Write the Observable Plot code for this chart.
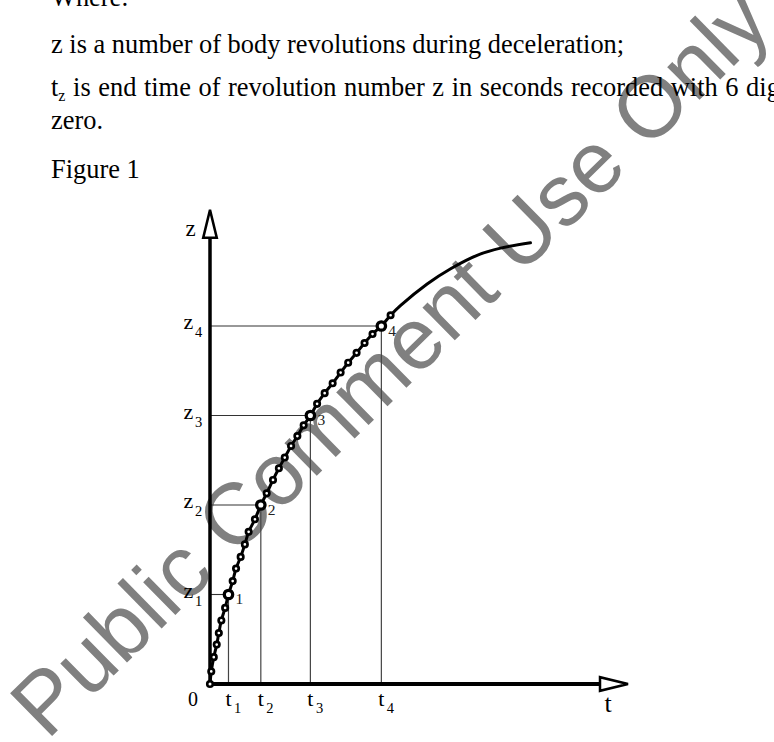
<!DOCTYPE html>
<html>
<head>
<meta charset="utf-8">
<script src="https://cdn.jsdelivr.net/npm/d3@7"></script>
<script src="https://cdn.jsdelivr.net/npm/@observablehq/plot@0.6"></script>
<style>
html, body { margin:0; padding:0; background:#fff; overflow:hidden; }
#page { position:relative; width:774px; height:742px; overflow:hidden; }
#wm { position:absolute; left:0; top:0; z-index:0; }
#content { position:relative; z-index:1; }
#text { position:relative; height:200px; font-family:"Liberation Serif","Times New Roman",serif; font-size:26.4px; color:#000; }
#text div { position:absolute; left:51px; line-height:30px; white-space:nowrap; }
#text sub { font-size:16px; vertical-align:-5px; line-height:0; }
#chart svg { display:block; }
</style>
</head>
<body>
<div id="page">
<svg id="wm" width="774" height="742"><text x="47" y="741" transform="rotate(-44.5 47 741)" font-family="'Liberation Sans', Arial, sans-serif" font-size="87" fill="#808080">Public Comment Use Only</text></svg>
<div id="content">
<div id="text">
  <div style="top:-18px">Where:</div>
  <div style="top:28.8px">z is a number of body revolutions during deceleration;</div>
  <div style="top:72.1px; word-spacing:1px">t<sub>z</sub> is end time of revolution number z in seconds recorded with 6 digits</div>
  <div style="top:105.1px">zero.</div>
  <div style="top:153.8px">Figure 1</div>
</div>
<div id="chart"></div>
</div>
</div>
<script>
// small beads along the curve (t, z)
const beadT = [0.03, 0.09, 0.16, 0.21, 0.27, 0.36, 0.54, 0.62, 0.73, 0.83, 0.92, 1.07, 1.35, 1.50, 1.64, 1.78, 1.93, 2.08, 2.23, 2.55, 2.73, 2.92, 3.11, 3.29, 3.49, 3.68, 3.87, 4.30];
const beadZ = [0.14, 0.30, 0.44, 0.57, 0.71, 0.85, 1.15, 1.29, 1.42, 1.56, 1.70, 1.84, 2.13, 2.28, 2.41, 2.53, 2.66, 2.77, 2.89, 3.13, 3.25, 3.36, 3.48, 3.59, 3.70, 3.81, 3.91, 4.12];
// marked revolutions 1..4
const markT = [0.44, 1.21, 2.39, 4.08];
const markZ = [1, 2, 3, 4];
const markNames = ["1", "2", "3", "4"];
// continuation of the curve after the last bead
const tailT = [4.54, 5.17, 5.73, 6.36, 6.92, 7.63];
const tailZ = [4.23, 4.47, 4.64, 4.79, 4.87, 4.93];
// axis extents
const tArrowBase = 9.3, tArrowTip = 10;
const zArrowBase = 4.99, zArrowTip = 5.32;

const beads = beadT.map((t, i) => ({t, z: beadZ[i]}));
const marks = markT.map((t, i) => ({t, z: markZ[i], name: markNames[i]}));
const tail = tailT.map((t, i) => ({t, z: tailZ[i]}));
const origin = [{t: 0, z: 0}];
const curve = origin.concat([...beads, ...marks].sort((a, b) => a.z - b.z), tail);

const arrowHead = {
  draw(ctx) {
    ctx.moveTo(-2, 0);
    ctx.lineTo(-30, -6.8);
    ctx.lineTo(-30, 6.8);
    ctx.closePath();
  }
};

const serif = "'Liberation Serif', 'Times New Roman', serif";

const chart = Plot.plot({
  width: 774,
  height: 542,
  marginLeft: 209.5,
  marginRight: 144.5,
  marginTop: 36,
  marginBottom: 58.5,
  x: {domain: [0, tArrowTip], axis: null},
  y: {domain: [0, 5], axis: null},
  style: {background: "transparent", overflow: "visible"},
  marks: [
    Plot.ruleY(marks, {y: "z", x1: 0, x2: "t", stroke: "#333", strokeWidth: 1.1}),
    Plot.ruleX(marks, {x: "t", y1: 0, y2: "z", stroke: "#444", strokeWidth: 1.2}),
    Plot.ruleX([0], {y1: 0, y2: zArrowBase, stroke: "black", strokeWidth: 3.5}),
    Plot.ruleY([0], {x1: 0, x2: tArrowBase, stroke: "black", strokeWidth: 4}),
    Plot.line(curve, {x: "t", y: "z", curve: "catmull-rom", stroke: "black", strokeWidth: 3}),
    Plot.dot(beads, {x: "t", y: "z", r: 2.7, fill: "white", stroke: "black", strokeWidth: 2.7}),
    Plot.dot(marks, {x: "t", y: "z", r: 4.2, fill: "white", stroke: "black", strokeWidth: 3.3}),
    Plot.dot(origin, {x: "t", y: "z", r: 2.8, fill: "white", stroke: "black", strokeWidth: 2.6}),
    Plot.dot([{t: tArrowTip, z: 0}], {x: "t", y: "z", symbol: arrowHead, fill: "white", stroke: "black", strokeWidth: 2.5, strokeLinejoin: "miter"}),
    Plot.dot([{t: 0, z: zArrowTip}], {x: "t", y: "z", symbol: arrowHead, rotate: -90, fill: "white", stroke: "black", strokeWidth: 2.5, strokeLinejoin: "miter"}),
    // point numbers
    Plot.text(marks, {x: "t", y: "z", text: "name", textAnchor: "start", lineAnchor: "bottom", dx: 7, dy: 9.5, fontSize: 15.5, fontFamily: serif, fill: "#222"}),
    // z tick labels
    Plot.text(marks, {x: 0, y: "z", text: () => "z", textAnchor: "start", lineAnchor: "bottom", dx: -26.5, dy: 3, fontSize: 22, fontFamily: serif, fill: "black"}),
    Plot.text(marks, {x: 0, y: "z", text: "name", textAnchor: "start", lineAnchor: "bottom", dx: -15, dy: 11, fontSize: 14.5, fontFamily: serif, fill: "black"}),
    // t tick labels
    Plot.text(marks, {x: "t", y: 0, text: () => "t", textAnchor: "middle", lineAnchor: "bottom", dy: 21.5, fontSize: 22, fontFamily: serif, fill: "black"}),
    Plot.text(marks, {x: "t", y: 0, text: "name", textAnchor: "start", lineAnchor: "bottom", dx: 5.5, dy: 29, fontSize: 14.5, fontFamily: serif, fill: "black"}),
    // origin label
    Plot.text(origin, {x: "t", y: "z", text: () => "0", textAnchor: "middle", lineAnchor: "bottom", dx: -17, dy: 21.5, fontSize: 20, fontFamily: serif, fill: "black"}),
    // axis titles
    Plot.text([{t: 0, z: 5}], {x: "t", y: "z", text: () => "z", textAnchor: "middle", lineAnchor: "bottom", dx: -19.5, dy: -1, fontSize: 23, fontFamily: serif, fill: "black"}),
    Plot.text([{t: tArrowTip, z: 0}], {x: "t", y: "z", text: () => "t", textAnchor: "middle", lineAnchor: "bottom", dx: -22, dy: 27.5, fontSize: 26, fontFamily: serif, fill: "black"})
  ]
});
document.getElementById("chart").appendChild(chart);
</script>
</body>
</html>
